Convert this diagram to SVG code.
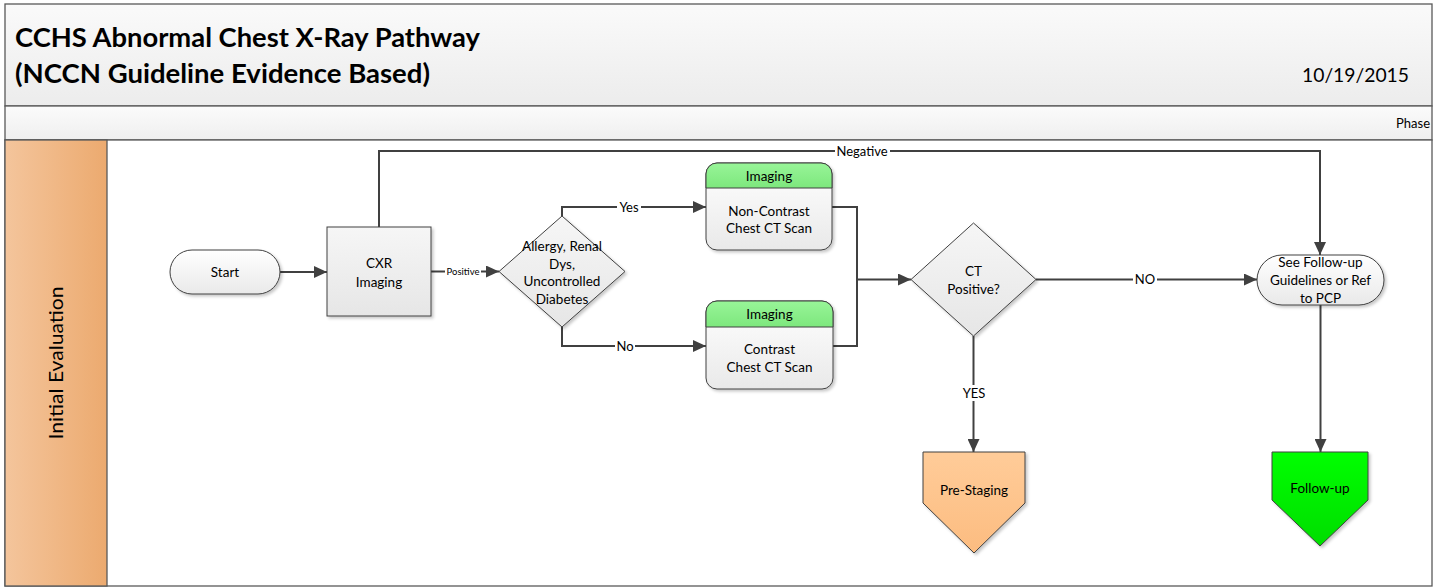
<svg xmlns="http://www.w3.org/2000/svg" width="1440" height="587" viewBox="0 0 1440 587">
  <defs>
    <style>
      text { font-family: Lato, "Liberation Sans", sans-serif; fill: #000; }
      .title { font-size: 26px; font-weight: bold; }
      .date { font-size: 20px; }
      .phase { font-size: 13px; }
      .lane { font-size: 19px; }
      .node { font-size: 13.5px; text-anchor: middle; }
      .lbl { font-size: 13px; text-anchor: middle; }
      .small { font-size: 9.5px; text-anchor: middle; }
      .frame { stroke: #595959; stroke-width: 1.3; }
      .shape { stroke: #404040; stroke-width: 1; }
      .conn { fill: none; stroke: #404040; stroke-width: 2; }
      .arrow { marker-end: url(#arrowHead); }
      .gap { fill: #fff; }
    </style>
    <linearGradient id="gTitle" x1="0" y1="0" x2="0" y2="1">
      <stop offset="0" stop-color="#fafafa"/>
      <stop offset="1" stop-color="#ececec"/>
    </linearGradient>
    <linearGradient id="gPhase" x1="0" y1="0" x2="0" y2="1">
      <stop offset="0" stop-color="#fbfbfb"/>
      <stop offset="1" stop-color="#efefef"/>
    </linearGradient>
    <linearGradient id="gLane" x1="0" y1="0" x2="1" y2="0">
      <stop offset="0" stop-color="#f4c59c"/>
      <stop offset="1" stop-color="#ecaa6f"/>
    </linearGradient>
    <linearGradient id="gNode" x1="0" y1="0" x2="0" y2="1">
      <stop offset="0" stop-color="#ffffff"/>
      <stop offset="1" stop-color="#e9e9e9"/>
    </linearGradient>
    <linearGradient id="gBox" x1="0" y1="0" x2="0" y2="1">
      <stop offset="0" stop-color="#f6f6f6"/>
      <stop offset="1" stop-color="#e6e6e6"/>
    </linearGradient>
    <linearGradient id="gHead" x1="0" y1="0" x2="0" y2="1">
      <stop offset="0" stop-color="#98f598"/>
      <stop offset="1" stop-color="#7de77d"/>
    </linearGradient>
    <linearGradient id="gOrange" x1="0" y1="0" x2="0" y2="1">
      <stop offset="0" stop-color="#ffcc99"/>
      <stop offset="1" stop-color="#fcbc80"/>
    </linearGradient>
    <linearGradient id="gGreen" x1="0" y1="0" x2="0" y2="1">
      <stop offset="0" stop-color="#00ff00"/>
      <stop offset="1" stop-color="#00dd00"/>
    </linearGradient>
    <filter id="shadow" x="-10%" y="-10%" width="130%" height="130%">
      <feDropShadow dx="2" dy="2" stdDeviation="1.5" flood-color="#000" flood-opacity="0.22"/>
    </filter>
    <marker id="arrowHead" markerUnits="userSpaceOnUse" markerWidth="14" markerHeight="12" refX="13" refY="6" orient="auto">
      <path d="M0,0 L13,6 L0,12 z" fill="#404040"/>
    </marker>
  </defs>

  <rect width="1440" height="587" fill="#fff"/>

  <!-- header, phase bar and swimlane -->
  <g id="header">
    <rect x="5" y="4" width="1427" height="102" fill="url(#gTitle)" class="frame"/>
    <text class="title" x="15" y="47" textLength="465" lengthAdjust="spacingAndGlyphs">CCHS Abnormal Chest X-Ray Pathway</text>
    <text class="title" x="15" y="83" textLength="415" lengthAdjust="spacingAndGlyphs">(NCCN Guideline Evidence Based)</text>
    <text class="date" x="1409" y="82" text-anchor="end" textLength="107" lengthAdjust="spacingAndGlyphs">10/19/2015</text>
  </g>
  <g id="phase-bar">
    <rect x="5" y="106" width="1427" height="34" fill="url(#gPhase)" class="frame"/>
    <text class="phase" x="1430" y="128" text-anchor="end">Phase</text>
  </g>
  <g id="lane-initial-evaluation">
    <rect x="5" y="140" width="1427" height="446" fill="#fff" class="frame"/>
    <rect x="5" y="140" width="102" height="446" fill="url(#gLane)" class="frame"/>
    <text class="lane" transform="translate(63 363) rotate(-90)" text-anchor="middle" textLength="153" lengthAdjust="spacingAndGlyphs">Initial Evaluation</text>
  </g>

  <!-- connectors -->
  <g id="connectors">
    <path class="conn arrow" d="M280 272 H327"/>
    <path class="conn arrow" d="M379 227 V151 H1320 V255"/>
    <path class="conn arrow" d="M431 271.5 H499"/>
    <path class="conn arrow" d="M562 216 V207 H706"/>
    <path class="conn arrow" d="M562 327 V346 H706"/>
    <path class="conn" d="M832 207 H857 V279.5"/>
    <path class="conn arrow" d="M832 346 H857 V279.5 H911"/>
    <path class="conn arrow" d="M1036 279.5 H1257"/>
    <path class="conn arrow" d="M973.5 336 V452"/>
    <path class="conn arrow" d="M1320.5 305 V452"/>

    <!-- connector labels -->
    <rect class="gap" x="835" y="144" width="55" height="14"/>
    <text class="lbl" x="862" y="155.5">Negative</text>
    <rect class="gap" x="445" y="265" width="36" height="12"/>
    <text class="small" x="463" y="274.5">Positive</text>
    <rect class="gap" x="617" y="200" width="24" height="14"/>
    <text class="lbl" x="629" y="211.5">Yes</text>
    <rect class="gap" x="615" y="339" width="20" height="14"/>
    <text class="lbl" x="625" y="350.5">No</text>
    <rect class="gap" x="1133" y="272" width="24" height="14"/>
    <text class="lbl" x="1145" y="283.5">NO</text>
    <rect class="gap" x="960" y="385" width="28" height="16"/>
    <text class="lbl" x="974" y="397.5">YES</text>
  </g>

  <!-- nodes -->
  <g id="start">
    <rect x="170" y="250" width="110" height="44" rx="22" fill="url(#gNode)" class="shape" filter="url(#shadow)"/>
    <text class="node" x="225" y="276.5">Start</text>
  </g>

  <g id="cxr-imaging">
    <rect x="327" y="227" width="104" height="89" fill="url(#gBox)" class="shape" filter="url(#shadow)"/>
    <text class="node" x="379" y="267.5">CXR</text>
    <text class="node" x="379" y="286.5">Imaging</text>
  </g>

  <g id="contrast-risk-decision">
    <polygon points="562,216 625,271.5 562,327 499,271.5" fill="url(#gBox)" class="shape" filter="url(#shadow)"/>
    <text class="node" x="562" y="250.5">Allergy, Renal</text>
    <text class="node" x="562" y="268.5">Dys,</text>
    <text class="node" x="562" y="285.5">Uncontrolled</text>
    <text class="node" x="562" y="303.5">Diabetes</text>
  </g>

  <g id="non-contrast-ct">
    <rect x="706" y="163" width="126" height="87" rx="11" fill="url(#gNode)" class="shape" filter="url(#shadow)"/>
    <path d="M706 188 V174 A11 11 0 0 1 717 163 H821 A11 11 0 0 1 832 174 V188 Z" fill="url(#gHead)" class="shape"/>
    <text class="node" x="769" y="180.5">Imaging</text>
    <text class="node" x="769" y="215.5">Non-Contrast</text>
    <text class="node" x="769" y="232.5">Chest CT Scan</text>
  </g>

  <g id="contrast-ct">
    <rect x="706" y="301" width="127" height="88" rx="11" fill="url(#gNode)" class="shape" filter="url(#shadow)"/>
    <path d="M706 327 V312 A11 11 0 0 1 717 301 H822 A11 11 0 0 1 833 312 V327 Z" fill="url(#gHead)" class="shape"/>
    <text class="node" x="769.5" y="318.5">Imaging</text>
    <text class="node" x="769.5" y="353.5">Contrast</text>
    <text class="node" x="769.5" y="371.5">Chest CT Scan</text>
  </g>

  <g id="ct-positive-decision">
    <polygon points="973.5,223 1036,279.5 973.5,336 911,279.5" fill="url(#gBox)" class="shape" filter="url(#shadow)"/>
    <text class="node" x="973.5" y="275.5">CT</text>
    <text class="node" x="973.5" y="293.5">Positive?</text>
  </g>

  <g id="see-follow-up">
    <rect x="1257" y="255" width="127" height="50" rx="25" fill="url(#gNode)" class="shape" filter="url(#shadow)"/>
    <text class="node" x="1320.5" y="266.5">See Follow-up</text>
    <text class="node" x="1320.5" y="284.5">Guidelines or Ref</text>
    <text class="node" x="1320.5" y="302.5">to PCP</text>
  </g>

  <g id="pre-staging">
    <polygon points="923,452 1025,452 1025,503 974,553 923,503" fill="url(#gOrange)" class="shape" filter="url(#shadow)"/>
    <text class="node" x="974" y="494.5">Pre-Staging</text>
  </g>

  <g id="follow-up">
    <polygon points="1272,452 1368,452 1368,500 1320,546 1272,500" fill="url(#gGreen)" class="shape" filter="url(#shadow)"/>
    <text class="node" x="1320" y="492.5">Follow-up</text>
  </g>
</svg>
